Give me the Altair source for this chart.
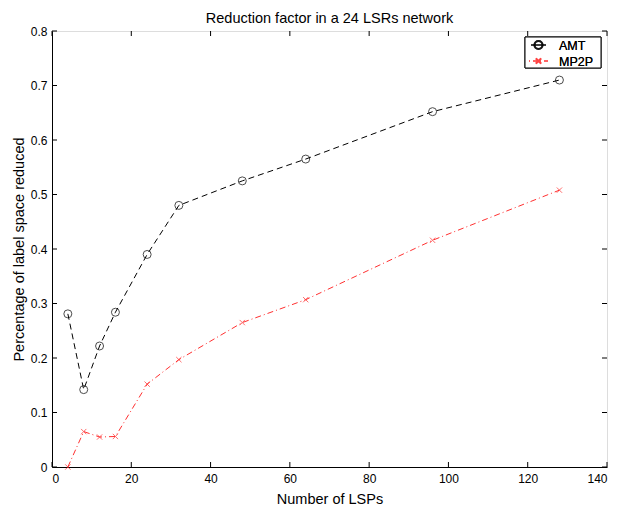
import altair as alt
import pandas as pd

lsps = [4, 8, 12, 16, 24, 32, 48, 64, 96, 128]
amt = [0.281, 0.142, 0.222, 0.284, 0.390, 0.480, 0.525, 0.565, 0.652, 0.710]
mp2p = [0.000, 0.065, 0.055, 0.056, 0.152, 0.197, 0.265, 0.307, 0.416, 0.508]
x_ticks = [0, 20, 40, 60, 80, 100, 120, 140]
y_ticks = [0, 0.1, 0.2, 0.3, 0.4, 0.5, 0.6, 0.7, 0.8]
series = ["AMT", "MP2P"]
title_text = "Reduction factor in a 24 LSRs network"

W, H = 555, 436
FONT = "Liberation Sans"
RED = "#ff3030"
XPATH = "M-1,-1L1,1M-1,1L1,-1"

df_amt = pd.DataFrame({"x": lsps, "y": amt})
df_mp = pd.DataFrame({"x": lsps, "y": mp2p})
df_xt = pd.DataFrame({"t": x_ticks})
df_yt = pd.DataFrame({"t": y_ticks})

xs = alt.Scale(domain=[0, 140], nice=False, zero=False)
ys = alt.Scale(domain=[0, 0.8], nice=False, zero=False)

xaxis = alt.Axis(values=x_ticks, ticks=False, grid=False, title="Number of LSPs",
                 labelPadding=6, titlePadding=8, domainColor="black", labelColor="black",
                 labelFont=FONT, labelFontSize=12, titleFont=FONT, titleFontSize=14.5,
                 titleFontWeight="normal", titleColor="black")
yaxis = alt.Axis(values=y_ticks, ticks=False, grid=False, title="Percentage of label space reduced",
                 labelPadding=5, titlePadding=4, domainColor="black", labelColor="black",
                 labelFont=FONT, labelFontSize=12, titleFont=FONT, titleFontSize=14.5,
                 titleFontWeight="normal", titleColor="black",
                 labelExpr="datum.value == 0 ? '0' : format(datum.value, '.1f')")

amt_line = alt.Chart(df_amt).mark_line(color="black", strokeDash=[6, 4], strokeWidth=1).encode(
    x=alt.X("x:Q", scale=xs, axis=xaxis), y=alt.Y("y:Q", scale=ys, axis=yaxis))
amt_pts = alt.Chart(df_amt).mark_point(shape="circle", color="black", filled=False, size=64, strokeWidth=1).encode(
    x=alt.X("x:Q", scale=xs), y=alt.Y("y:Q", scale=ys))
mp_line = alt.Chart(df_mp).mark_line(color=RED, strokeDash=[6, 3, 1, 3], strokeWidth=1).encode(
    x=alt.X("x:Q", scale=xs), y=alt.Y("y:Q", scale=ys))
mp_pts = alt.Chart(df_mp).mark_point(shape=XPATH, color=RED, filled=False, size=28, strokeWidth=1).encode(
    x=alt.X("x:Q", scale=xs), y=alt.Y("y:Q", scale=ys))

# inward ticks on all four sides
xt_b = alt.Chart(df_xt).mark_rule(color="black").encode(
    x=alt.X("t:Q", scale=xs), y=alt.value(H), y2=alt.value(H - 5))
xt_t = alt.Chart(df_xt).mark_rule(color="black").encode(
    x=alt.X("t:Q", scale=xs), y=alt.value(0), y2=alt.value(5))
yt_l = alt.Chart(df_yt).mark_rule(color="black").encode(
    y=alt.Y("t:Q", scale=ys), x=alt.value(0), x2=alt.value(5))
yt_r = alt.Chart(df_yt).mark_rule(color="black").encode(
    y=alt.Y("t:Q", scale=ys), x=alt.value(W), x2=alt.value(W - 5))

# title
ttl = alt.Chart(pd.DataFrame({"t": [title_text]})).mark_text(
    align="center", baseline="alphabetic", font=FONT, fontSize=14.5, color="black").encode(
    text="t:N", x=alt.value(W / 2), y=alt.value(-8))

# legend
leg = pd.DataFrame({"name": series})
box = alt.Chart(leg).mark_rect(fill="white", stroke="black", strokeWidth=1).encode(
    x=alt.value(473), x2=alt.value(549), y=alt.value(6), y2=alt.value(37))
l1 = alt.Chart(leg).mark_rule(color="black", strokeWidth=1).encode(
    x=alt.value(479), x2=alt.value(494), y=alt.value(14))
p1 = alt.Chart(leg).mark_point(shape="circle", color="black", filled=False, size=64).encode(
    x=alt.value(486.5), y=alt.value(14))
l2 = alt.Chart(leg).mark_rule(color=RED, strokeWidth=1, strokeDash=[1, 3, 4, 3]).encode(
    x=alt.value(477), x2=alt.value(496), y=alt.value(30))
p2 = alt.Chart(leg).mark_point(shape=XPATH, color=RED, filled=False, size=28).encode(
    x=alt.value(486.5), y=alt.value(30))
t1 = alt.Chart(leg).mark_text(text=series[0], align="left", baseline="middle", font=FONT, fontSize=12.5, color="black").encode(
    x=alt.value(507), y=alt.value(14.5))
t2 = alt.Chart(leg).mark_text(text=series[1], align="left", baseline="middle", font=FONT, fontSize=12.5, color="black").encode(
    x=alt.value(507), y=alt.value(30.5))

chart = alt.layer(
    amt_line, mp_line, amt_pts, mp_pts, xt_b, xt_t, yt_l, yt_r, ttl, box, l1, p1, l2, p2, t1, t2
).properties(
    width=W, height=H,
    autosize=alt.AutoSizeParams(type="none"),
    padding={"left": 44, "top": 23, "right": 2, "bottom": 42},
).configure_view(stroke="black", strokeWidth=1).configure(background="white")

chart.save("out.html", embed_options={"renderer": "svg", "actions": False})
